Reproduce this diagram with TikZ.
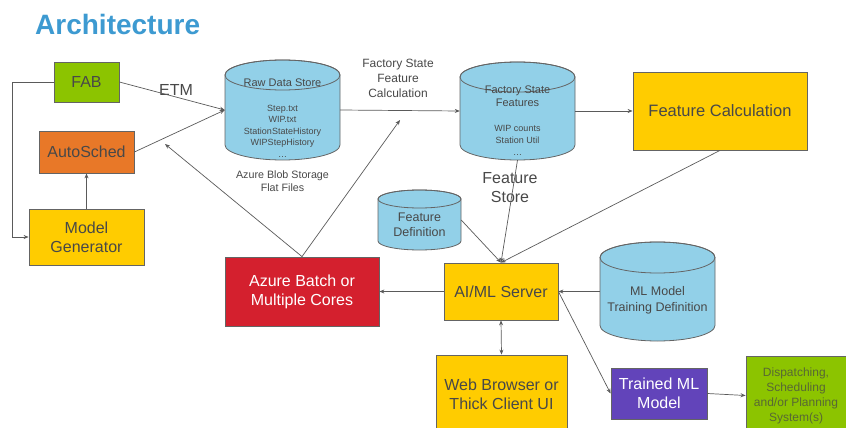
\documentclass[tikz,border=0pt]{standalone}
\usepackage{fontspec}
\setmainfont{Liberation Sans}
\usetikzlibrary{arrows.meta}
\definecolor{headblue}{RGB}{61,154,209}
\definecolor{fabgreen}{RGB}{140,196,0}
\definecolor{schedorange}{RGB}{232,120,40}
\definecolor{calcyellow}{RGB}{255,204,0}
\definecolor{batchred}{RGB}{212,32,46}
\definecolor{modelpurple}{RGB}{98,68,186}
\definecolor{drumblue}{RGB}{146,208,232}
\definecolor{edgegray}{RGB}{100,100,100}
\definecolor{linegray}{RGB}{90,90,90}
\definecolor{textgray}{RGB}{72,72,72}
\definecolor{dispatchtext}{RGB}{88,104,52}
\tikzset{
box/.style={draw=edgegray, line width=0.8pt, text=textgray, align=center,
inner sep=0pt, font=\fontsize{16}{19}\selectfont},
drum/.style={fill=drumblue, draw=edgegray, line width=0.8pt},
drumtext/.style={text=textgray, align=center, inner sep=0pt},
notetext/.style={text=textgray, align=center, inner sep=0pt},
conn/.style={draw=linegray, line width=0.7pt, -{Stealth[length=5pt,width=4pt]}}
}
\newcommand*{\DrumNode}[6]{% #1 = name, #2 = centre x, #3 = top, #4 = bottom, #5 = width, #6 = cap radius
\node [draw=none, inner sep=0pt, minimum width=#5, minimum height=#4-#3]
(#1) at (#2,{(#3+#4)/2}) {};
\filldraw [drum] ({#2-#5/2},{#3+#6}) -- ({#2-#5/2},{#4-#6})
arc [start angle=180, end angle=0, x radius=#5/2, y radius=#6]
-- ({#2+#5/2},{#3+#6})
arc [start angle=0, end angle=-180, x radius=#5/2, y radius=#6] -- cycle;
\draw [drum, fill=none] (#2,{#3+#6}) ellipse [x radius=#5/2, y radius=#6];
}

\begin{document}
\begin{tikzpicture}[x=1pt, y=-1pt]

            \useasboundingbox (0,0) rectangle (846,428);
            \clip (0,0) rectangle (846,428);

            \node [anchor=base west, text=headblue, inner sep=0pt,
            font=\fontsize{28}{32}\selectfont\bfseries] (head) at (35,35) {Architecture};

            % stores
            \DrumNode{raw}{282.5}{60}{160}{115}{15}
            \DrumNode{fsf}{517.5}{62}{160}{115}{15}
            \DrumNode{fdef}{419.5}{190}{250}{83}{9}
            \DrumNode{mltrain}{657.5}{242}{341}{115}{15.5}

            \node [drumtext, font=\fontsize{11}{13}\selectfont] (rawhead) at (282.5,83) {Raw Data Store};
            \node [drumtext, font=\fontsize{9}{11.5}\selectfont] (rawlist) at (282.5,131)
            {Step.txt\\WIP.txt\\StationStateHistory\\WIPStepHistory\\\ldots};
            \node [drumtext, font=\fontsize{11}{13}\selectfont] (fsfhead) at (517.5,96.5) {Factory State\\Features};
            \node [drumtext, font=\fontsize{9}{12}\selectfont] (fsflist) at (517.5,140)
            {WIP counts\\Station Util\\\ldots};
            \node [drumtext, font=\fontsize{12.5}{15}\selectfont] (fdefhead) at (419.5,224.5) {Feature\\Definition};
            \node [drumtext, font=\fontsize{12.5}{16}\selectfont] (mlhead) at (657.5,300) {ML Model\\Training Definition};

            % boxes
            \node [box, fill=fabgreen, minimum width=65, minimum height=40] (fab) at (86.5,82) {FAB};
            \node [box, fill=schedorange, minimum width=95, minimum height=42] (sched) at (86.5,152) {AutoSched};
            \node [box, fill=calcyellow, minimum width=115, minimum height=56] (gen) at (86.5,237) {Model\\Generator};
            \node [box, fill=calcyellow, minimum width=174, minimum height=78,
            font=\fontsize{16.5}{20}\selectfont] (fcalc) at (720,111) {Feature Calculation};
            \node [box, fill=calcyellow, minimum width=114, minimum height=57] (ai) at (501,291.5) {AI/ML Server};
            \node [box, fill=batchred, text=white, minimum width=154, minimum height=69] (batch) at (302,291.5)
            {Azure Batch or\\Multiple Cores};
            \node [box, fill=modelpurple, text=white, minimum width=96, minimum height=51] (trained) at (659,393.5)
            {Trained ML\\Model};
            \node [box, fill=fabgreen, text=dispatchtext, minimum width=100, minimum height=79,
            font=\fontsize{12}{15}\selectfont] (dispatch) at (796,395.5)
            {Dispatching,\\Scheduling\\and/or Planning\\System(s)};
            \node [box, fill=calcyellow, minimum width=131, minimum height=78] (web) at (501.5,394)
            {Web Browser or\\Thick Client UI};

            % notes
            \node [notetext, font=\fontsize{16}{18}\selectfont] (etm) at (176,90) {ETM};
            \node [notetext, font=\fontsize{12}{15}\selectfont] (fsfcalc) at (398,78)
            {Factory State\\Feature\\Calculation};
            \node [notetext, font=\fontsize{10.7}{13}\selectfont] (blob) at (282.5,181.5)
            {Azure Blob Storage\\Flat Files};
            \node [notetext, font=\fontsize{16}{19}\selectfont] (fstore) at (510,187.5) {Feature\\Store};

            % connectors
            \coordinate (calcin) at (400,120);
            \coordinate (schedin) at (165,144);
            \draw [conn] (fab.east) -- (raw.west);
            \draw [conn] (sched.east) -- (raw.west);
            \draw [conn] (fab.west) -- ++(-41,0) |- (gen.west);
            \draw [conn] (gen.north) -- (sched.south);
            \draw [conn] (raw.east) -- (fsf.west);
            \draw [conn] (fsf.east) -- (fcalc.west);
            \draw [conn] (batch.north) -- (calcin);
            \draw [conn] (batch.north) -- (schedin);
            \draw [conn] (fsf.south) -- (ai.north);
            \draw [conn] (fcalc.south) -- (ai.north);
            \draw [conn] (fdef.east) -- (ai.north);
            \draw [conn] (ai.west) -- (batch.east);
            \draw [conn] (mltrain.west) -- (ai.east);
            \draw [conn] (ai.east) -- (trained.west);
            \draw [conn, {Stealth[length=5pt,width=4pt]}-{Stealth[length=5pt,width=4pt]}] (ai.south) -- (web.north);
            \draw [conn] (trained.east) -- (dispatch.west);

        \end{tikzpicture}
\end{document}
